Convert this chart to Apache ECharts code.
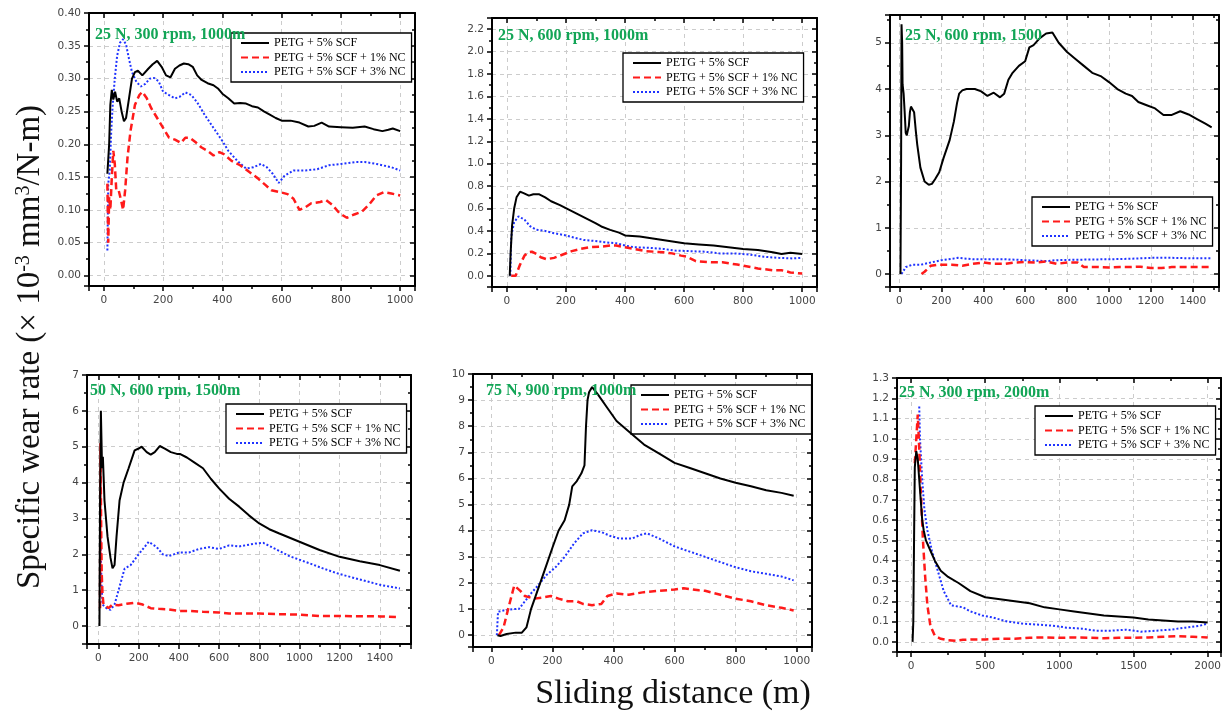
<!DOCTYPE html>
<html><head><meta charset="utf-8">
<script src="https://cdn.jsdelivr.net/npm/echarts@6/dist/echarts.min.js"></script>
<style>html,body{margin:0;padding:0;background:#fff}#c{width:1231px;height:712px}</style>
</head><body><div id="c"></div>
<script>
const seriesNames = ['PETG + 5% SCF', 'PETG + 5% SCF + 1% NC', 'PETG + 5% SCF + 3% NC'];
const panelTitles = ['25 N, 300 rpm, 1000m', '25 N, 600 rpm, 1000m', '25 N, 600 rpm, 1500', '50 N, 600 rpm, 1500m', '75 N, 900 rpm, 1000m', '25 N, 300 rpm, 2000m'];
const yAxisTitle = 'Specific wear rate (× 10{sup|-3} mm{sup|3}/N-m)';
const xAxisTitle = 'Sliding distance (m)';

// Panel 1: 25 N, 300 rpm, 1000 m
const p1Scf = [[12,0.155],[18,0.20],[22,0.26],[27,0.283],[32,0.268],[38,0.28],[45,0.265],[52,0.27],[60,0.25],[68,0.235],[75,0.24],[85,0.27],[95,0.30],[105,0.31],[115,0.312],[130,0.305],[150,0.315],[165,0.322],[180,0.327],[195,0.318],[210,0.305],[225,0.302],[240,0.315],[255,0.32],[270,0.323],[285,0.322],[300,0.318],[315,0.305],[330,0.298],[350,0.293],[370,0.29],[385,0.285],[400,0.277],[420,0.27],[440,0.262],[460,0.263],[480,0.262],[500,0.258],[520,0.256],[540,0.25],[560,0.245],[580,0.24],[600,0.236],[630,0.236],[660,0.233],[690,0.227],[710,0.228],[735,0.233],[760,0.227],[800,0.226],[840,0.225],[880,0.227],[910,0.223],[940,0.22],[960,0.222],[975,0.224],[1000,0.22]];
const p1Nc1 = [[12,0.14],[15,0.05],[18,0.12],[22,0.10],[27,0.15],[32,0.19],[37,0.17],[42,0.13],[50,0.13],[58,0.115],[65,0.10],[72,0.13],[80,0.18],[90,0.22],[105,0.26],[120,0.275],[130,0.28],[145,0.27],[160,0.255],[180,0.24],[200,0.225],[220,0.21],[240,0.207],[260,0.202],[275,0.21],[290,0.21],[310,0.203],[330,0.195],[350,0.19],[370,0.183],[390,0.188],[405,0.185],[430,0.175],[460,0.168],[490,0.158],[520,0.148],[545,0.138],[565,0.13],[595,0.127],[620,0.124],[640,0.117],[660,0.10],[680,0.104],[700,0.11],[730,0.112],[750,0.115],[770,0.108],[795,0.095],[820,0.088],[845,0.093],[870,0.097],[895,0.108],[920,0.122],[945,0.127],[970,0.125],[1000,0.122]];
const p1Nc3 = [[12,0.038],[15,0.14],[20,0.16],[25,0.22],[30,0.26],[37,0.30],[45,0.335],[55,0.355],[65,0.36],[75,0.352],[85,0.33],[95,0.31],[110,0.295],[125,0.288],[140,0.292],[155,0.30],[170,0.301],[185,0.296],[200,0.28],[220,0.275],[240,0.27],[255,0.272],[275,0.279],[295,0.275],[315,0.264],[340,0.245],[370,0.225],[400,0.205],[420,0.19],[450,0.175],[480,0.163],[505,0.165],[530,0.17],[550,0.165],[570,0.155],[590,0.141],[610,0.152],[640,0.16],[680,0.16],[720,0.162],[760,0.168],[800,0.17],[850,0.173],[880,0.173],[920,0.17],[970,0.165],[1000,0.16]];

// Panel 2: 25 N, 600 rpm, 1000 m
const p2Scf = [[10,0],[13,0.2],[18,0.45],[25,0.6],[33,0.7],[45,0.75],[55,0.74],[75,0.715],[90,0.728],[110,0.727],[130,0.70],[150,0.665],[180,0.63],[210,0.59],[240,0.55],[270,0.51],[300,0.47],[320,0.44],[350,0.41],[380,0.385],[400,0.36],[450,0.35],[500,0.33],[550,0.31],[600,0.29],[650,0.28],[700,0.27],[750,0.255],[800,0.24],[850,0.23],[900,0.21],[930,0.195],[960,0.205],[1000,0.195]];
const p2Nc1 = [[15,0],[30,0],[45,0.1],[60,0.18],[75,0.21],[85,0.215],[100,0.195],[115,0.165],[135,0.148],[160,0.16],[190,0.19],[220,0.22],[250,0.24],[280,0.255],[320,0.26],[350,0.27],[370,0.27],[400,0.255],[430,0.24],[470,0.22],[500,0.215],[530,0.21],[560,0.2],[590,0.18],[610,0.17],[640,0.13],[700,0.12],[730,0.12],[780,0.1],[820,0.08],[850,0.065],[900,0.05],[930,0.05],[960,0.03],[1000,0.02]];
const p2Nc3 = [[12,0],[15,0.35],[25,0.48],[40,0.53],[60,0.5],[80,0.44],[100,0.41],[130,0.40],[160,0.38],[200,0.36],[230,0.34],[260,0.32],[300,0.31],[330,0.3],[370,0.29],[400,0.27],[430,0.255],[480,0.25],[530,0.24],[570,0.225],[620,0.22],[670,0.215],[720,0.2],[770,0.2],[820,0.19],[870,0.17],[920,0.16],[970,0.155],[1000,0.16]];

// Panel 3: 25 N, 600 rpm, 1500 m
const p3Scf = [[5,0],[8,2.5],[10,5.4],[13,5.0],[15,4.1],[20,3.9],[25,3.5],[30,3.05],[35,3.0],[40,3.1],[45,3.2],[50,3.5],[55,3.62],[62,3.6],[70,3.5],[78,3.1],[85,2.8],[100,2.3],[120,2.0],[140,1.93],[155,1.95],[170,2.05],[190,2.2],[210,2.5],[240,2.9],[260,3.3],[275,3.7],[285,3.9],[300,3.97],[320,4.0],[360,4.0],[390,3.95],[420,3.85],[450,3.92],[480,3.82],[500,3.9],[520,4.2],[540,4.35],[570,4.5],[600,4.6],[620,4.9],[640,4.95],[670,5.1],[700,5.2],[730,5.22],[760,5.0],[800,4.8],[840,4.65],[880,4.5],[920,4.35],[960,4.28],[1000,4.15],[1040,4.0],[1080,3.9],[1110,3.85],[1140,3.72],[1180,3.65],[1220,3.58],[1260,3.44],[1300,3.44],[1340,3.52],[1380,3.45],[1420,3.35],[1460,3.25],[1490,3.17]];
const p3Nc1 = [[105,0],[120,0.05],[150,0.18],[180,0.2],[250,0.2],[300,0.18],[350,0.22],[400,0.25],[450,0.22],[500,0.22],[550,0.25],[600,0.26],[650,0.25],[700,0.27],[750,0.22],[800,0.25],[850,0.25],[880,0.15],[950,0.15],[1000,0.14],[1050,0.15],[1100,0.15],[1150,0.16],[1200,0.13],[1250,0.13],[1300,0.15],[1400,0.15],[1490,0.15]];
const p3Nc3 = [[10,0],[30,0.15],[60,0.2],[100,0.2],[150,0.25],[200,0.3],[250,0.33],[280,0.35],[350,0.32],[500,0.32],[600,0.3],[700,0.28],[750,0.3],[850,0.31],[1000,0.32],[1100,0.33],[1200,0.35],[1300,0.35],[1400,0.34],[1490,0.34]];

// Panel 4: 50 N, 600 rpm, 1500 m
const p4Scf = [[5,0],[8,3.5],[12,6.0],[15,5.2],[18,4.4],[22,4.72],[30,3.5],[45,2.5],[60,1.9],[70,1.61],[80,1.7],[90,2.5],[105,3.5],[125,4.0],[150,4.4],[180,4.9],[200,4.95],[215,5.0],[240,4.85],[260,4.78],[280,4.85],[305,5.02],[330,4.95],[360,4.85],[390,4.8],[405,4.8],[440,4.7],[480,4.55],[520,4.4],[560,4.1],[600,3.84],[650,3.55],[700,3.33],[750,3.08],[800,2.86],[850,2.7],[900,2.58],[1000,2.35],[1100,2.12],[1200,1.93],[1300,1.81],[1400,1.7],[1500,1.54]];
const p4Nc1 = [[8,0.5],[10,5.1],[13,3.0],[16,1.5],[20,0.9],[25,0.6],[40,0.55],[50,0.5],[70,0.6],[100,0.58],[140,0.62],[180,0.65],[220,0.6],[260,0.5],[300,0.48],[340,0.47],[400,0.42],[460,0.42],[520,0.4],[600,0.38],[650,0.35],[800,0.35],[900,0.33],[1000,0.32],[1100,0.28],[1200,0.28],[1400,0.27],[1500,0.25]];
const p4Nc3 = [[10,2.6],[15,1.2],[20,0.6],[40,0.5],[60,0.45],[80,0.6],[100,1.0],[130,1.6],[160,1.7],[200,2.0],[250,2.35],[290,2.2],[320,2.0],[350,1.95],[400,2.05],[450,2.05],[500,2.15],[550,2.2],[600,2.15],[650,2.25],[700,2.22],[780,2.3],[820,2.32],[880,2.15],[950,1.95],[1050,1.75],[1120,1.6],[1200,1.45],[1300,1.3],[1400,1.15],[1500,1.05]];

// Panel 5: 75 N, 900 rpm, 1000 m
const p5Scf = [[20,0],[30,-0.03],[50,0.05],[80,0.1],[100,0.1],[115,0.3],[130,1.0],[145,1.5],[175,2.5],[200,3.35],[220,4.0],[240,4.4],[255,5.0],[265,5.7],[280,5.9],[295,6.2],[305,6.5],[310,8.0],[315,9.0],[320,9.3],[330,9.5],[350,9.2],[380,8.7],[410,8.2],[450,7.8],[500,7.3],[550,6.95],[600,6.6],[650,6.4],[700,6.2],[750,6.0],[800,5.84],[850,5.7],[900,5.55],[950,5.45],[990,5.34]];
const p5Nc1 = [[25,0],[40,0.3],[55,1.0],[75,1.9],[95,1.7],[110,1.5],[140,1.4],[170,1.45],[195,1.5],[220,1.4],[250,1.3],[280,1.3],[300,1.2],[330,1.15],[360,1.2],[380,1.5],[410,1.6],[450,1.55],[500,1.65],[550,1.7],[600,1.75],[630,1.8],[680,1.72],[700,1.7],[750,1.55],[800,1.4],[850,1.3],[900,1.15],[950,1.05],[990,0.95]];
const p5Nc3 = [[18,0],[22,0.9],[40,0.95],[70,1.0],[90,1.0],[110,1.3],[130,1.6],[160,2.0],[180,2.3],[210,2.6],[240,3.0],[270,3.5],[300,3.9],[330,4.02],[360,3.95],[390,3.8],[420,3.7],[460,3.7],[490,3.85],[510,3.9],[550,3.7],[600,3.4],[650,3.2],[700,3.0],[750,2.8],[800,2.6],[850,2.45],[900,2.35],[950,2.25],[990,2.1]];

// Panel 6: 25 N, 300 rpm, 2000 m
const p6Scf = [[10,0],[15,0.1],[20,0.5],[25,0.86],[30,0.86],[35,0.94],[45,0.9],[55,0.8],[60,0.75],[75,0.6],[85,0.55],[100,0.5],[130,0.45],[160,0.4],[200,0.35],[250,0.32],[320,0.29],[400,0.25],[500,0.22],[600,0.21],[700,0.2],[800,0.19],[900,0.17],[1000,0.16],[1100,0.15],[1200,0.14],[1300,0.13],[1400,0.125],[1500,0.12],[1600,0.11],[1700,0.105],[1800,0.1],[1900,0.1],[2000,0.095]];
const p6Nc1 = [[25,0.88],[35,1.0],[45,1.12],[55,0.95],[65,0.75],[80,0.5],[95,0.32],[110,0.18],[130,0.08],[160,0.03],[200,0.015],[250,0.008],[300,0.005],[350,0.01],[400,0.012],[500,0.012],[600,0.015],[700,0.015],[800,0.02],[900,0.022],[1000,0.02],[1100,0.022],[1200,0.02],[1300,0.018],[1400,0.02],[1500,0.02],[1600,0.022],[1700,0.025],[1800,0.028],[1900,0.025],[2000,0.022]];
const p6Nc3 = [[55,1.16],[60,1.0],[75,0.8],[90,0.65],[110,0.55],[140,0.45],[180,0.35],[220,0.25],[270,0.18],[350,0.17],[400,0.15],[480,0.13],[550,0.12],[650,0.1],[750,0.09],[850,0.085],[950,0.08],[1050,0.07],[1150,0.065],[1250,0.055],[1350,0.055],[1450,0.06],[1550,0.05],[1650,0.055],[1750,0.06],[1850,0.07],[1950,0.08],[2000,0.09]];

// Axis scales (tick steps, label decimals, visible ranges)
const xTickStep = [200, 200, 200, 200, 200, 500];
const yTickStep = [0.05, 0.2, 1, 1, 1, 0.1];
const yDecimals = [2, 1, 0, 0, 0, 1];
const xRanges = [[-50, 1050], [-50, 1050], [-45, 1525], [-57, 1555], [-60, 1050], [-95, 2090]];
const yRanges = [[-0.016, 0.40], [-0.1, 2.3], [-0.28, 5.6], [-0.5, 7], [-0.45, 10], [-0.05, 1.3]];

const panelData = [
  [p1Scf, p1Nc1, p1Nc3], [p2Scf, p2Nc1, p2Nc3], [p3Scf, p3Nc1, p3Nc3],
  [p4Scf, p4Nc1, p4Nc3], [p5Scf, p5Nc1, p5Nc3], [p6Scf, p6Nc1, p6Nc3]
];

// layout (pixels)
const gridBoxes = [
  {left: 89, top: 13, width: 326, height: 273},
  {left: 492, top: 18, width: 325, height: 269},
  {left: 890, top: 15, width: 329, height: 272},
  {left: 87, top: 375, width: 324, height: 269},
  {left: 473, top: 374, width: 339, height: 273},
  {left: 897, top: 378, width: 324, height: 274}
];
const legendPos = [[231, 33], [623, 53], [1032, 197], [226, 404], [631, 385], [1035, 406]];
const titlePos = [[95, 27], [498, 28], [905, 28], [90, 383], [486, 383], [899, 385]];

const seriesColors = ['#000000', '#ff1a1a', '#1f33ff'];
const lineStyles = [
  {color: seriesColors[0], width: 2, type: 'solid'},
  {color: seriesColors[1], width: 2.5, type: [7, 4]},
  {color: seriesColors[2], width: 2, type: [2, 2]}
];

function fmt(step, dec) {
  return function (v) {
    const k = v / step;
    if (Math.abs(k - Math.round(k)) > 1e-6) return '';
    return Number(v).toFixed(dec);
  };
}

const grids = [], xAxes = [], yAxes = [], series = [], legends = [], titles = [];
const axisLineStyle = {color: '#000', width: 2};
const tickStyle = {color: '#000', width: 1.5};
const labelStyle = {color: '#444', fontFamily: 'DejaVu Sans', fontSize: 10.5};
const splitStyle = {color: '#cccccc', type: [4, 4], width: 1};

for (let i = 0; i < 6; i++) {
  grids.push(Object.assign({show: false}, gridBoxes[i]));
  const xs = xTickStep[i], ys = yTickStep[i];
  xAxes.push({
    type: 'value', gridIndex: i, position: 'bottom', min: xRanges[i][0], max: xRanges[i][1],
    splitNumber: 5, minInterval: xs, maxInterval: xs,
    axisLine: {onZero: false, lineStyle: axisLineStyle},
    axisTick: {show: true, length: 5, lineStyle: tickStyle},
    minorTick: {show: true, splitNumber: 2, length: 3, lineStyle: tickStyle},
    axisLabel: Object.assign({margin: 9, formatter: fmt(xs, 0)}, labelStyle),
    splitLine: {show: true, lineStyle: splitStyle}
  });
  xAxes.push({
    type: 'value', gridIndex: i, position: 'top', min: xRanges[i][0], max: xRanges[i][1],
    splitNumber: 5, minInterval: xs, maxInterval: xs,
    axisLine: {onZero: false, lineStyle: axisLineStyle},
    axisTick: {show: true, inside: true, length: 5, lineStyle: tickStyle},
    minorTick: {show: true, splitNumber: 2, length: 3, lineStyle: tickStyle},
    axisLabel: {show: false}, splitLine: {show: false}
  });
  yAxes.push({
    type: 'value', gridIndex: i, position: 'left', min: yRanges[i][0], max: yRanges[i][1],
    splitNumber: 6, minInterval: ys, maxInterval: ys,
    axisLine: {onZero: false, lineStyle: axisLineStyle},
    axisTick: {show: true, length: 5, lineStyle: tickStyle},
    minorTick: {show: true, splitNumber: 2, length: 3, lineStyle: tickStyle},
    axisLabel: Object.assign({margin: 8, formatter: fmt(ys, yDecimals[i])}, labelStyle),
    splitLine: {show: true, lineStyle: splitStyle}
  });
  yAxes.push({
    type: 'value', gridIndex: i, position: 'right', min: yRanges[i][0], max: yRanges[i][1],
    splitNumber: 6, minInterval: ys, maxInterval: ys,
    axisLine: {onZero: false, lineStyle: axisLineStyle},
    axisTick: {show: true, inside: true, length: 5, lineStyle: tickStyle},
    minorTick: {show: true, splitNumber: 2, length: 3, lineStyle: tickStyle},
    axisLabel: {show: false}, splitLine: {show: false}
  });
  for (let s = 0; s < 3; s++) {
    series.push({
      type: 'line', name: seriesNames[s], xAxisIndex: 2 * i, yAxisIndex: 2 * i,
      data: panelData[i][s], showSymbol: false, symbol: 'none', smooth: false,
      itemStyle: {color: seriesColors[s]},
      lineStyle: lineStyles[s], z: 3 + (2 - s), clip: true
    });
  }
  legends.push({
    data: seriesNames, orient: 'vertical', left: legendPos[i][0], top: legendPos[i][1],
    backgroundColor: '#fff', borderColor: '#000', borderWidth: 1.3,
    padding: [4, 6, 4, 9], itemGap: 2.5, itemWidth: 28, itemHeight: 12,
    selectedMode: false,
    itemStyle: {opacity: 0},
    textStyle: {fontFamily: 'Liberation Serif', fontSize: 12, color: '#000', lineHeight: 12}
  });
  titles.push({
    text: panelTitles[i], left: titlePos[i][0], top: titlePos[i][1], padding: 0,
    textStyle: {fontFamily: 'Liberation Serif', fontWeight: 'bold', fontSize: 16, color: '#12a556'}
  });
}

const chart = echarts.init(document.getElementById('c'), null, {renderer: 'canvas'});
chart.setOption({
  animation: false,
  backgroundColor: '#fff',
  title: titles,
  legend: legends,
  grid: grids,
  xAxis: xAxes,
  yAxis: yAxes,
  series: series,
  graphic: [
    {
      type: 'text', x: 30, y: 347, rotation: Math.PI / 2, z: 10,
      style: {
        text: yAxisTitle, fontFamily: 'Liberation Serif', fontSize: 33, fill: '#111',
        align: 'center', verticalAlign: 'middle',
        rich: {sup: {fontFamily: 'Liberation Serif', fontSize: 20, verticalAlign: 'top', fill: '#111'}}
      }
    },
    {
      type: 'text', x: 673, y: 694, z: 10,
      style: {
        text: xAxisTitle, fontFamily: 'Liberation Serif', fontSize: 34, fill: '#111',
        align: 'center', verticalAlign: 'middle'
      }
    }
  ]
});
</script></body></html>
